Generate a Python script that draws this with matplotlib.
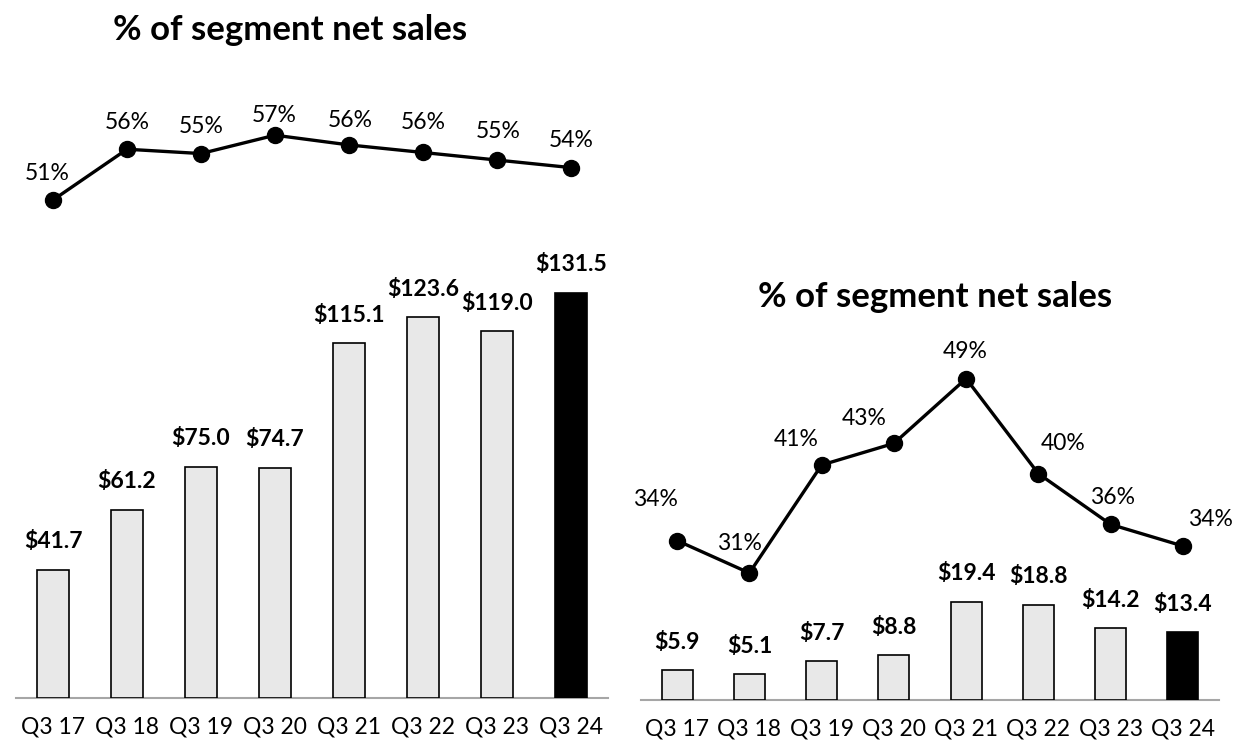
import matplotlib
matplotlib.use("Agg")
import matplotlib.pyplot as plt

plt.rcParams['font.family'] = ['Lato', 'DejaVu Sans']

quarters = ["Q3 17", "Q3 18", "Q3 19", "Q3 20", "Q3 21", "Q3 22", "Q3 23", "Q3 24"]

# left segment
left_sales = [41.7, 61.2, 75.0, 74.7, 115.1, 123.6, 119.0, 131.5]
left_pct = [51.0, 55.7, 55.3, 57.0, 56.1, 55.4, 54.7, 54.0]
left_pct_labels = ["51%", "56%", "55%", "57%", "56%", "56%", "55%", "54%"]

# right segment
right_sales = [5.9, 5.1, 7.7, 8.8, 19.4, 18.8, 14.2, 13.4]
right_pct = [34.0, 31.0, 41.0, 43.0, 49.0, 40.2, 35.5, 33.5]
right_pct_labels = ["34%", "31%", "41%", "43%", "49%", "40%", "36%", "34%"]

W, H = 1234, 747
fig = plt.figure(figsize=(W / 100, H / 100), dpi=100)


def add_ax(x0, y_top, x1, y_bot):
    # pixel box (from top-left) -> figure fraction
    return fig.add_axes([x0 / W, 1 - y_bot / H, (x1 - x0) / W, (y_bot - y_top) / H])


def clean(ax):
    for s in ax.spines.values():
        s.set_visible(False)
    ax.set_yticks([])
    ax.patch.set_alpha(0)


def panel(x0, x1, base_y, bar_px, sales, pct, pct_labels, pct_ref, label_offsets, title, title_xy):
    n = len(sales)
    # bars
    ax = add_ax(x0, base_y - 160 * bar_px, x1, base_y)
    colors = ['#E8E8E8'] * (n - 1) + ['black']
    bars = ax.bar(range(n), sales, width=0.43, color=colors, edgecolor='black', linewidth=1.2, zorder=3)
    ax.set_xlim(-0.5, n - 0.5)
    ax.set_ylim(0, 160)
    clean(ax)
    ax.spines['bottom'].set_visible(True)
    ax.spines['bottom'].set_color('#A6A6A6')
    ax.spines['bottom'].set_linewidth(1.5)
    ax.set_xticks(range(n))
    ax.set_xticklabels(quarters, fontsize=16.5)
    ax.tick_params(axis='x', length=0, pad=13)
    for b, v in zip(bars, sales):
        ax.annotate(f"${v:.1f}", (b.get_x() + b.get_width() / 2, v), xytext=(0, 28),
                    textcoords='offset pixels', ha='center', va='center',
                    fontsize=16.5, fontweight='bold')

    # line on its own axes covering whole figure height, 10.8 px per %
    lx = add_ax(x0, 0, x1, H)
    v0, y0 = pct_ref
    lo = v0 - (H - y0) / 10.8
    lx.set_ylim(lo, lo + H / 10.8)
    lx.set_xlim(-0.5, n - 0.5)
    lx.plot(range(n), pct, color='black', linewidth=2.4, marker='o', markersize=11.5, zorder=4)
    clean(lx)
    lx.set_xticks([])
    for i, (v, lab) in enumerate(zip(pct, pct_labels)):
        dx, dy = label_offsets[i]
        lx.annotate(lab, (i, v), xytext=(dx, dy), textcoords='offset pixels',
                    ha='center', va='center', fontsize=16.5)

    fig.text(title_xy[0] / W, 1 - title_xy[1] / H, title, ha='center', va='center',
             fontsize=25, fontweight='bold')


panel(16, 608, 698, 3.08, left_sales, left_pct, left_pct_labels, (51.0, 200),
      [(-6, 27), (0, 27), (0, 27), (-1, 20), (1, 24), (0, 30), (1, 29), (0, 27)],
      "% of segment net sales", (290, 30))

panel(641, 1219, 700, 5.06, right_sales, right_pct, right_pct_labels, (31.0, 573),
      [(-22, 41), (-10, 30), (-25, 25), (-30, 25), (-1, 27), (25, 30), (2, 27), (28, 27)],
      "% of segment net sales", (935, 297))

fig.savefig("out.png", dpi=100)
